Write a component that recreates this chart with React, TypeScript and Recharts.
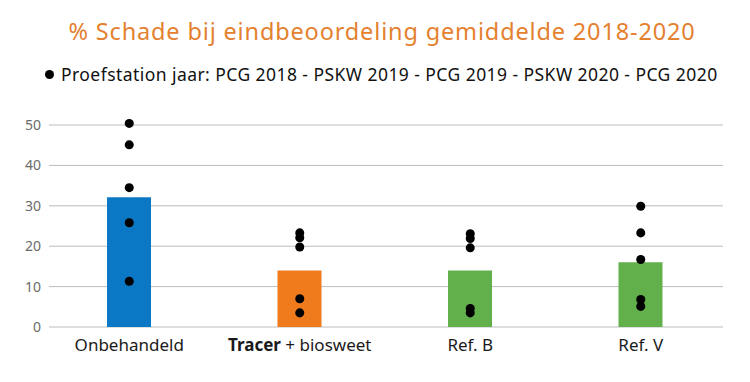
import React from "react";
import {
  Bar,
  CartesianGrid,
  Cell,
  ComposedChart,
  Scatter,
  XAxis,
  YAxis,
} from "recharts";

const categories = ["Onbehandeld", "Tracer + biosweet", "Ref. B", "Ref. V"];
const means = [32.1, 14.0, 14.0, 16.0];
const barColors = ["#0a78c4", "#f07b1c", "#62b04c", "#62b04c"];

// one dot per station-year, highest first
const dotsOnbehandeld = [50.4, 45.1, 34.5, 25.8, 11.3];
const dotsTracer = [23.3, 22.1, 19.8, 7.0, 3.5];
const dotsRefB = [23.1, 21.9, 19.6, 4.6, 3.5];
const dotsRefV = [29.9, 23.3, 16.7, 6.8, 5.1];
const dotSets = [dotsOnbehandeld, dotsTracer, dotsRefB, dotsRefV];

const yTicks = [0, 10, 20, 30, 40, 50];
const Y_MAX = 51;

const rows = categories.map((name, i) => {
  const row: Record<string, number | string> = { name, mean: means[i] };
  dotSets[i].forEach((v, j) => {
    row[`p${j}`] = v;
  });
  return row;
});

const FONT = "'Noto Sans', sans-serif";

function CategoryTick(props: any) {
  const { x, y, payload } = props;
  const label: string = payload.value;
  const bold = label.startsWith("Tracer");
  return (
    <text
      x={x}
      y={y + 16}
      textAnchor="middle"
      fill="#1a1a1a"
      fontSize={17}
      fontFamily={FONT}
    >
      {bold ? (
        <>
          <tspan fontWeight={700}>Tracer</tspan>
          <tspan>{label.slice(6)}</tspan>
        </>
      ) : (
        label
      )}
    </text>
  );
}

export default function App() {
  return (
    <div
      style={{
        position: "absolute",
        left: 0,
        top: 0,
        width: 750,
        height: 382,
        background: "#fff",
        fontFamily: FONT,
      }}
    >
      <div
        style={{
          position: "absolute",
          top: 15,
          left: 7,
          width: 750,
          textAlign: "center",
          fontSize: 23.5,
          letterSpacing: 0.85,
          color: "#e4812f",
        }}
      >
        % Schade bij eindbeoordeling gemiddelde 2018-2020
      </div>
      <div
        style={{
          position: "absolute",
          top: 62,
          left: 45,
          fontSize: 17.5,
          letterSpacing: 0.44,
          color: "#111",
          display: "flex",
          alignItems: "center",
        }}
      >
        <span
          style={{
            display: "inline-block",
            width: 9,
            height: 9,
            borderRadius: "50%",
            background: "#000",
            marginRight: 7,
          }}
        />
        Proefstation jaar: PCG 2018 - PSKW 2019 - PCG 2019 - PSKW 2020 - PCG 2020
      </div>
      <ComposedChart
        width={750}
        height={382}
        data={rows}
        margin={{ top: 121, right: 27, left: 0, bottom: 24 }}
        style={{ position: "absolute", left: 0, top: 0 }}
      >
        <CartesianGrid
          stroke="#bdbdbd"
          vertical={false}
          horizontalCoordinatesGenerator={({ offset }: any) =>
            yTicks.map((t) => offset.top + offset.height * (1 - t / Y_MAX))
          }
        />
        <XAxis
          dataKey="name"
          axisLine={false}
          tickLine={false}
          height={31}
          interval={0}
          padding={{ left: -5, right: -3 }}
          tick={<CategoryTick />}
        />
        <YAxis
          width={49}
          domain={[0, Y_MAX]}
          ticks={yTicks}
          axisLine={false}
          tickLine={false}
          tick={{ fill: "#6b6b6b", fontSize: 14, fontFamily: FONT }}
        />
        <Bar dataKey="mean" barSize={44} isAnimationActive={false}>
          {rows.map((_, i) => (
            <Cell key={i} fill={barColors[i]} />
          ))}
        </Bar>
        {dotSets[0].map((_, j) => (
          <Scatter
            key={j}
            dataKey={`p${j}`}
            fill="#000"
            isAnimationActive={false}
          />
        ))}
      </ComposedChart>
    </div>
  );
}
